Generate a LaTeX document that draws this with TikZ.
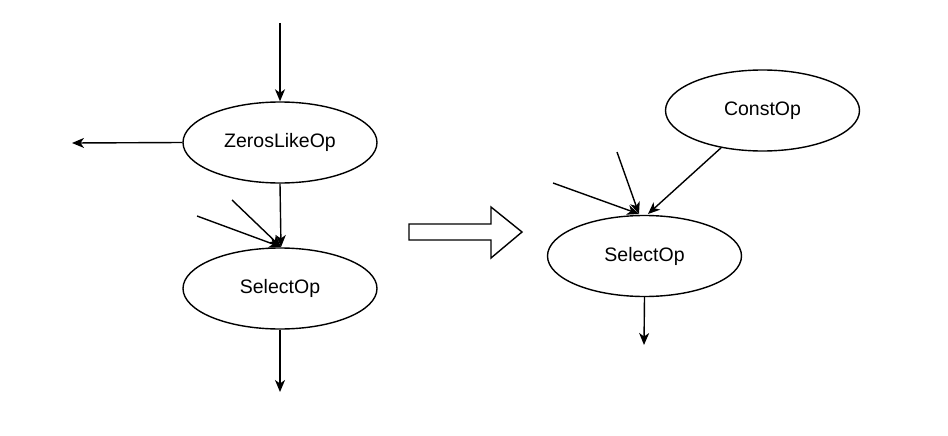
\documentclass[tikz,border=0pt]{standalone}
\usepackage{fontspec}
\setmainfont{Liberation Sans}
\usetikzlibrary{shapes.geometric,arrows.meta}
\begin{document}
\begin{tikzpicture}[x=1pt,y=-1pt,
  opnode/.style={draw,ellipse,line width=1.4pt,minimum width=194pt,minimum height=81pt,inner sep=0pt,font=\fontsize{19.5pt}{22pt}\selectfont},
  conn/.style={line width=1.4pt,-{Stealth[length=12pt,width=10pt,inset=3.5pt]}},
  bigarrow/.style={draw,line width=1.4pt,fill=white}]
\useasboundingbox (0,0) rectangle (948,436);
\node[opnode] (zeros) at (280,142.5) {ZerosLikeOp};
\node[opnode] (sel1) at (280,288.5) {SelectOp};
\node[opnode] (const) at (762.5,110.5) {ConstOp};
\node[opnode] (sel2) at (644.5,256) {SelectOp};
% left free ends
\coordinate (in1) at (280,23);
\coordinate (out1) at (72,143);
\coordinate (out2) at (280,392);
\coordinate (a1) at (197,216);
\coordinate (a2) at (232,200);
\coordinate (t1) at (281,247);
% right free ends
\coordinate (b1) at (553,183);
\coordinate (b2) at (617,152);
\coordinate (t2) at (639,214);
\coordinate (t3) at (648,214);
\coordinate (out3) at (644,345);
\draw[conn] (in1) -- (zeros.north);
\draw[conn] (zeros.west) -- (out1);
\draw[conn] (zeros.south) -- (t1);
\draw[conn] (a1) -- (t1);
\draw[conn] (a2) -- (t1);
\draw[conn] (sel1.south) -- (out2);
\draw[conn] (b1) -- (t2);
\draw[conn] (b2) -- (t2);
\draw[conn] (const.-138) -- (t3);
\draw[conn] (sel2.south) -- (out3);
\draw[bigarrow] (409,224) -- (491,224) -- (491,207) -- (522,232) -- (491,258) -- (491,240) -- (409,240) -- cycle;
\end{tikzpicture}
\end{document}
